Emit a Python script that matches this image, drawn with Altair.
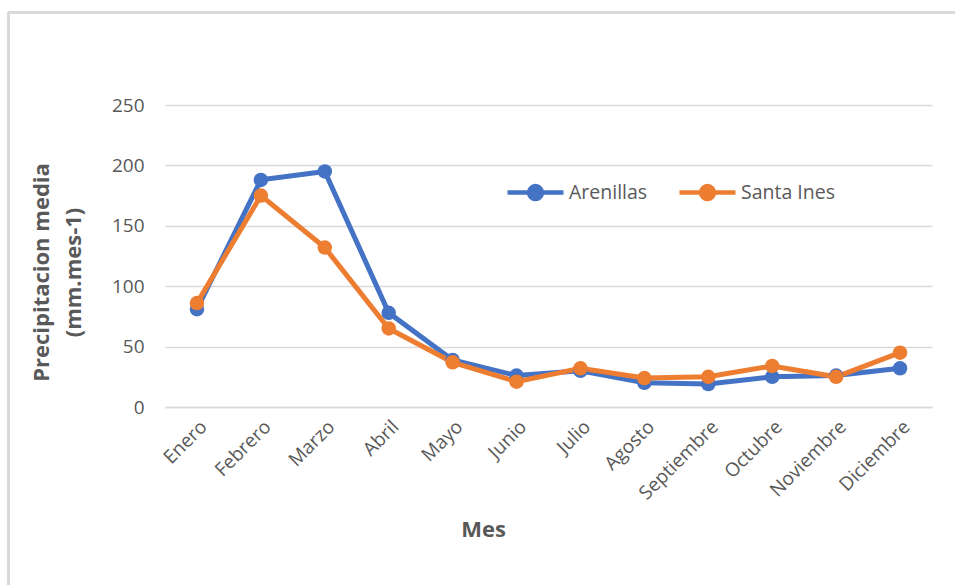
import altair as alt
import pandas as pd

meses = ["Enero", "Febrero", "Marzo", "Abril", "Mayo", "Junio", "Julio",
         "Agosto", "Septiembre", "Octubre", "Noviembre", "Diciembre"]
arenillas = [81, 188, 195, 78, 39, 26, 30, 20, 19, 25, 26, 32]
santa_ines = [86, 175, 132, 65, 37, 21, 32, 24, 25, 34, 25, 45]
estaciones = ["Arenillas", "Santa Ines"]
colores = ["#4472C4", "#ED7D31"]

df = pd.DataFrame({
    "Mes": meses * 2,
    "Estacion": [estaciones[0]] * 12 + [estaciones[1]] * 12,
    "Precipitacion": arenillas + santa_ines,
})

FONT = "Open Sans"
GREY = "#595959"

# legend glyph: a short line with a dot in the middle
legend_symbol = ("M-1,0H-0.23M0.23,0H1"
                 "M-0.23,0A0.23,0.23 0 1,0 0.23,0A0.23,0.23 0 1,0 -0.23,0Z")

lines = alt.Chart(df).mark_line(
    strokeWidth=5,
    point=alt.OverlayMarkDef(filled=True, size=210, opacity=1),
).encode(
    x=alt.X("Mes:N", sort=meses, scale=alt.Scale(paddingOuter=0.5),
            axis=alt.Axis(title="Mes", labelAngle=-45, labelPadding=10,
                          titleX=318, titleY=112, titleAnchor="middle",
                          titleAlign="center")),
    y=alt.Y("Precipitacion:Q", scale=alt.Scale(domain=[0, 250]),
            axis=alt.Axis(values=[0, 50, 100, 150, 200, 250],
                          title=["Precipitacion media", "(mm.mes-1)"],
                          titleAngle=-90, titleX=-134, titleY=167,
                          titleBaseline="top", titleAlign="center",
                          titleLineHeight=32, labelPadding=21)),
    color=alt.Color("Estacion:N",
                    scale=alt.Scale(domain=estaciones, range=colores),
                    legend=alt.Legend(title=None, orient="none",
                                      legendX=340, legendY=57,
                                      direction="horizontal",
                                      symbolType=legend_symbol,
                                      symbolSize=3136, symbolStrokeWidth=4.5,
                                      labelFontSize=19.5, labelColor=GREY,
                                      labelFont=FONT, columnPadding=22,
                                      labelOffset=3)),
)

# outer frame lines along the top and left edges of the chart area
frame_left = alt.Chart(df).mark_rule(color="#d9d9d9", strokeWidth=2).encode(
    x=alt.value(-156.5), y=alt.value(-92.5), y2=alt.value(490))
frame_top = alt.Chart(df).mark_rule(color="#d9d9d9", strokeWidth=2).encode(
    x=alt.value(-157), x2=alt.value(800), y=alt.value(-92.5))

chart = alt.layer(frame_left, frame_top, lines).properties(
    width=767, height=302,
    autosize=alt.AutoSizeParams(type="none"),
    padding={"left": 165, "top": 105, "right": 23, "bottom": 178},
).configure_view(strokeWidth=0).configure_axis(
    grid=False, domain=False, ticks=False,
    labelFont=FONT, labelFontSize=19, labelColor=GREY,
    titleFont=FONT, titleFontSize=22, titleFontWeight="bold", titleColor=GREY,
).configure_axisY(
    grid=True, gridColor="#d9d9d9", gridWidth=1.5,
).configure_axisX(
    domain=True, domainColor="#d9d9d9", domainWidth=1.5,
)

chart.save("out.html", embed_options={"renderer": "svg", "actions": False})
